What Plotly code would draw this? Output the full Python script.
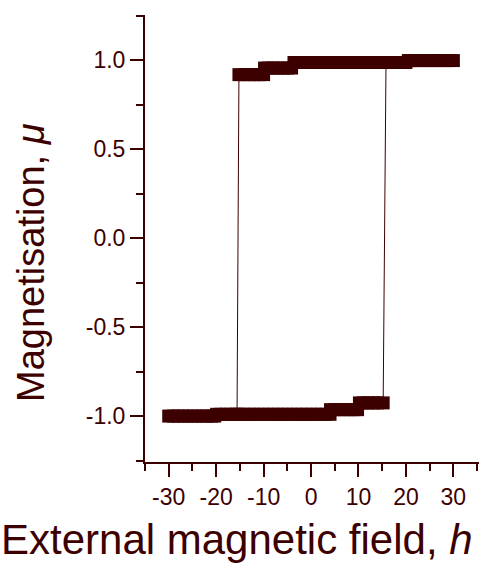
import plotly.graph_objects as go

# ---- data ----
# increasing field: lower branch, then jump to upper branch
h_up = [-30, -29, -28, -27, -26, -25, -24, -23, -22, -21, -20.3,
        -19.9, -19, -18, -17, -16, -15, -14, -13, -12, -11, -10, -9, -8, -7, -6, -5, -4,
        -3, -2, -1, 0, 1, 2, 3, 4,
        4.1, 5, 6, 7, 8, 9, 9.8,
        10.2, 11, 12, 13, 14, 15.2,
        15.8]
mu_up = [-1.0, -1.0, -1.0, -1.0, -1.0, -1.0, -1.0, -1.0, -1.0, -1.0, -1.0,
         -0.99, -0.99, -0.99, -0.99, -0.99, -0.99, -0.99, -0.99, -0.99, -0.99, -0.99, -0.99,
         -0.99, -0.99, -0.99, -0.99, -0.99,
         -0.99, -0.99, -0.99, -0.99, -0.99, -0.99, -0.99, -0.99,
         -0.964, -0.964, -0.964, -0.964, -0.964, -0.964, -0.964,
         -0.926, -0.926, -0.926, -0.926, -0.926, -0.926,
         0.986]

# decreasing field: upper branch, then jump to lower branch
h_down = [30, 29, 28, 27, 26, 25, 24, 23, 22, 21, 20.5,
          20, 19, 18, 17, 16, 15, 14, 13, 12, 11, 10, 9, 8, 7, 6, 5, 4,
          3, 2, 1, 0, -1, -2, -3, -3.6,
          -4.1, -5, -6, -7, -8, -9, -9.8,
          -10, -11, -12, -13, -14, -15.2,
          -15.6]
mu_down = [0.997, 0.997, 0.997, 0.997, 0.997, 0.997, 0.997, 0.997, 0.997, 0.997, 0.997,
           0.986, 0.986, 0.986, 0.986, 0.986, 0.986, 0.986, 0.986, 0.986, 0.986, 0.986, 0.986,
           0.986, 0.986, 0.986, 0.986, 0.986,
           0.986, 0.986, 0.986, 0.986, 0.986, 0.986, 0.986, 0.986,
           0.955, 0.955, 0.955, 0.955, 0.955, 0.955, 0.955,
           0.918, 0.918, 0.918, 0.918, 0.918, 0.918,
           -0.99]

x_tickvals = [-30, -20, -10, 0, 10, 20, 30]
x_ticktext = ["-30", "-20", "-10", "0", "10", "20", "30"]
y_tickvals = [-1.0, -0.5, 0.0, 0.5, 1.0]
y_ticktext = ["-1.0", "-0.5", "0.0", "0.5", "1.0"]

C = "#3d0000"
FONT = "Liberation Sans, Arial, sans-serif"

fig = go.Figure()
for hx, my in ((h_up, mu_up), (h_down, mu_down)):
    fig.add_trace(go.Scatter(
        x=hx, y=my, mode="lines+markers",
        line=dict(color=C, width=1),
        marker=dict(symbol="square", size=13, color=C, line=dict(width=0)),
        showlegend=False, hoverinfo="skip"))

axis_common = dict(
    showline=True, linewidth=2, linecolor=C,
    ticks="outside", ticklen=13, tickwidth=2, tickcolor=C,
    showgrid=False, zeroline=False, mirror=False,
    tickfont=dict(family=FONT, size=23, color=C),
    automargin=False,
)

fig.update_xaxes(range=[-35, 35.4], tickvals=x_tickvals, ticktext=x_ticktext,
                 minor=dict(ticks="outside", ticklen=7, tickwidth=2, tickcolor=C,
                            dtick=5, tick0=0, showgrid=False),
                 **axis_common)
fig.update_yaxes(range=[-1.258, 1.253], tickvals=y_tickvals, ticktext=y_ticktext,
                 minor=dict(ticks="outside", ticklen=7, tickwidth=2, tickcolor=C,
                            dtick=0.25, tick0=0, showgrid=False),
                 **axis_common)

fig.add_annotation(text="Magnetisation, <i>μ</i>", xref="paper", yref="paper",
                   x=(31 - 145) / 334, y=(462 - 262) / 447, textangle=-90,
                   xanchor="center", yanchor="middle", showarrow=False,
                   font=dict(family=FONT, size=38, color=C))
fig.add_annotation(text="External magnetic field, <i>h</i>", xref="paper", yref="paper",
                   x=(237 - 145) / 334, y=(462 - 539) / 447,
                   xanchor="center", yanchor="middle", showarrow=False,
                   font=dict(family=FONT, size=42, color=C))

fig.update_layout(
    width=479, height=567,
    margin=dict(l=145, r=0, t=15, b=105),
    paper_bgcolor="white", plot_bgcolor="white",
    template="none",
)

fig.write_html("out.html")
